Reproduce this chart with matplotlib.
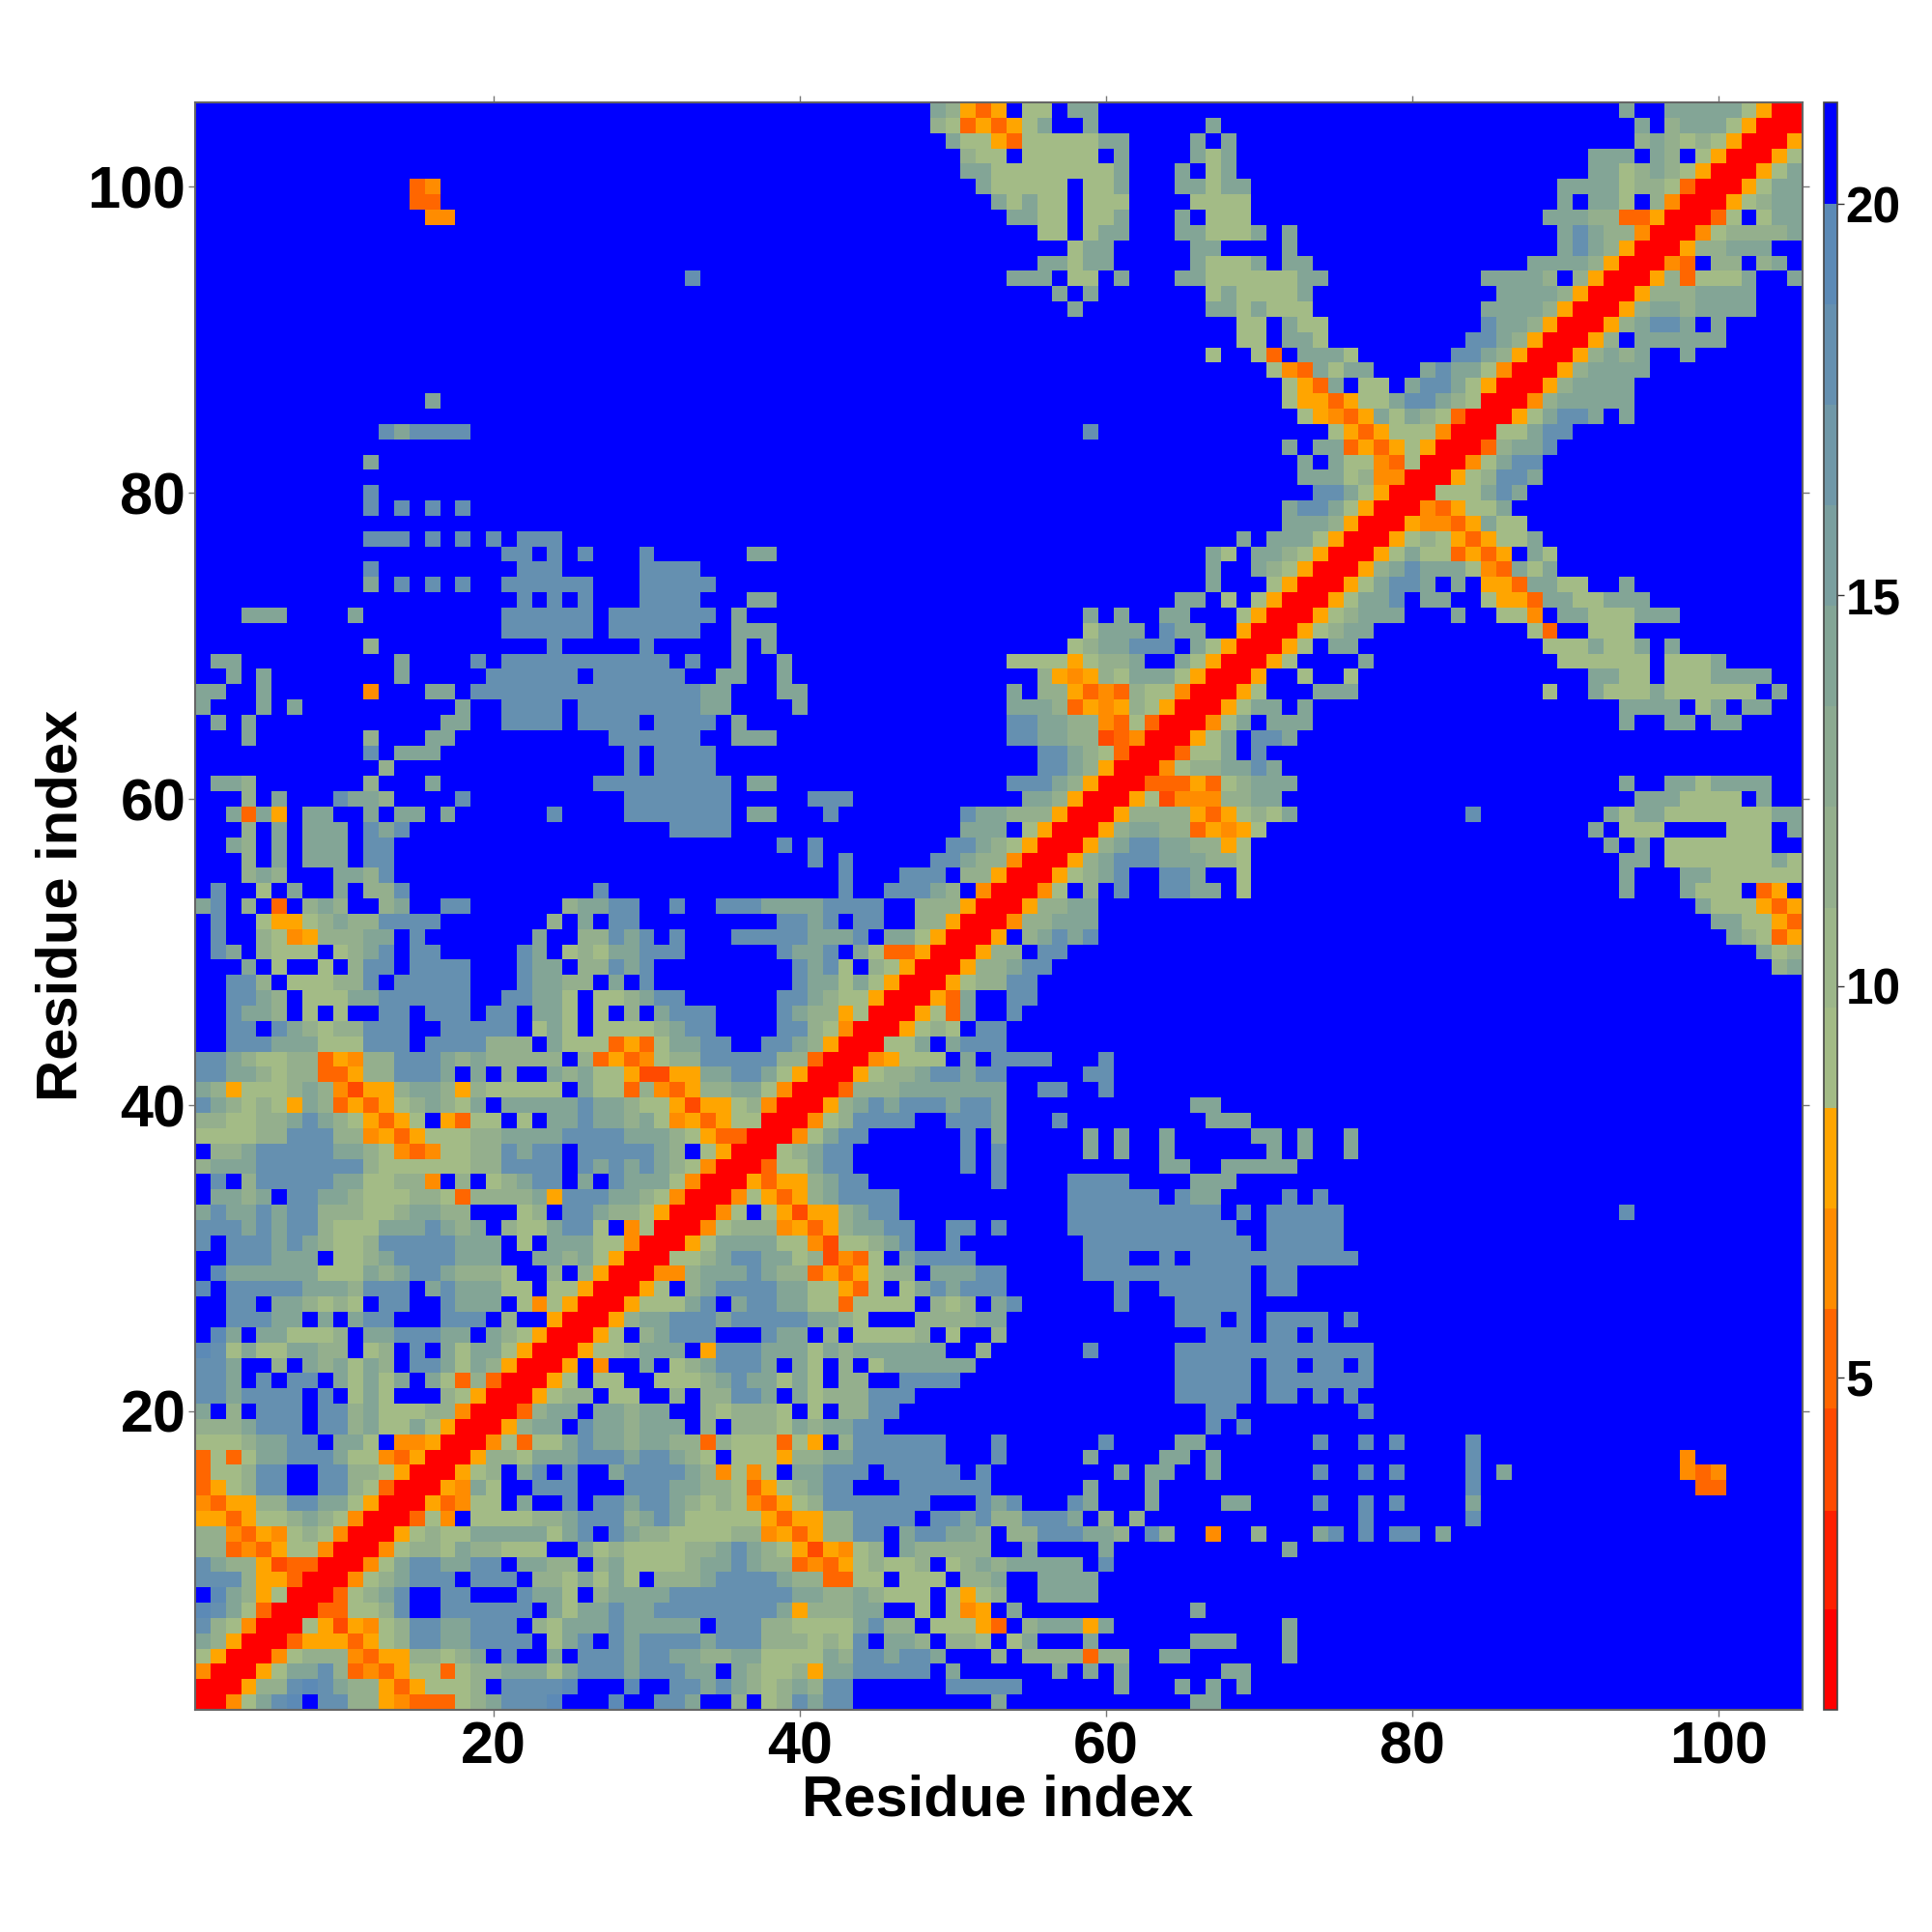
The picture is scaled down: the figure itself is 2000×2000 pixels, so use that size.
import numpy as np
import matplotlib
matplotlib.use("Agg")
import matplotlib.pyplot as plt
from matplotlib.colors import ListedColormap, BoundaryNorm

plt.rcParams["font.family"] = ["Liberation Sans", "DejaVu Sans"]
plt.rcParams["font.weight"] = "bold"

n_res = 105
edges = [0.75, 2.03, 3.3, 4.6, 5.88, 7.16, 8.45, 9.73, 11.0, 12.3, 13.58, 14.87, 16.15, 17.43, 18.72, 20.0, 21.3]
colors = ["#ff0000", "#ff2000", "#ff4a00", "#ff6600", "#ff8c00", "#ffa500",
          "#a3bb86", "#9cb68a", "#94af8d", "#8caa91", "#83a596", "#7a9f9f",
          "#7098a8", "#6590b0", "#5c8ab6", "#0000ff"]

# distance for each letter used in the rows below
levels = {"0": 1.4, "1": 2.7, "2": 3.9, "3": 5.2, "4": 6.5, "5": 7.8,
          "a": 9.1, "c": 11.6, "e": 14.0, "g": 18.0, "i": 19.4, ".": 20.6}

# rows 1-35, columns from the diagonal to 35
tri_a = [
    "004aegi.ggcc54333acegggi...i..gge.",
    "005ccgigecc535aaac.ggggi...i..ggeg",
    "005aeegc3435aa3acceeeaegggegggee.",
    "004accc4355ccace.g..e.gggeggeecc",
    "00355535acggeegggg.aeg.geggggeg",
    "00a5254acggeeggg.caeeegeeeee.g",
    "0033aacg..gggggg.eaeegeeggggg",
    "003aceg..gg...geea.ceeeegggg",
    "004aceggg.ggg.ccaeaea.ccceg",
    "004aeggeegg.eecc.ceaaaacee",
    "004accaeccaaa..eacaaaacce",
    "005acaaeeeeeaeg.geccaaaa",
    "003a4.aaaaccegggcegeaaa",
    "00534aa.e..g.ggeggecac",
    "0054ea..ggg...gggeecc",
    "005ac.eg.g..eggggec4",
    "005ccaeeegggeggeca.",
    "004a3aaegeeceecc3c",
    "005cee.geeceee.c.",
    "003cee.eecee..ca",
    "005acc.aa..c.cc",
    "005a.aa..aaace",
    "005.4..e.aceg",
    "005aaceee.5g",
    "005a.ceggg.",
    "005ceeggge",
    "005aaaeg.",
    "005a.ceg",
    "0044cee",
    "00aace",
    "005ae",
    "004a",
    "004",
    "00",
    "0",
]

# rows 1-35, columns 36-70
block_b = [
    "c.acgegg.........e............ee...",
    "ecacecgg......ggggg......e...e.e.e.",
    "ecaac5eeggggg.e......e.e.e......ee.",
    "eeaaaaecggegge...c.cccc3cc..ee.....",
    "ggcccacag.eec.cca.ae...e......eee..",
    "ggccaaaaegcc.aaa53.ceee5e..........",
    "ggge5cccee..a.a45.e...........e....",
    "ggggeeccecaaa.a5ac..eeee...........",
    "gggecc33aa.aaa.cce..eeee...........",
    "gecc3435acaac.aceceeeee.g..........",
    "geca5254ac.eccccc..e....e..........",
    "cc4535ccgg.eggeec.ccgggeec.gc..4..c",
    "aa5355ccgggg.ggegccggge.c.c........",
    "a435acggggggg...geg...ge...e....ee.",
    "a35acegg...gggggg......e...e.......",
    "a4a.eeggg.ggggg.g........e.ee..e...",
    "aaa5cceegggggg...g.....e....ee.e...",
    "aaa3a5.cgggggg...g......g....ee....",
    "cccaeceegg.....................g.g.",
    "ccca.a.ccgg....................gg..",
    "gge.eacccggg.................ggggg.",
    "geeaea.cc..gggg..............ggggg.",
    "gge.ea.c.aeeeeee.............ggggg.",
    "ggeeeaeceeeeee..c......g.....gggggg",
    "..gee.c.aaaac.a..c.............ggg.",
    "gggggeeca...ccccee...........ggg.g.",
    "eggeeaa3aaaa.cac.eg......g...ggggg.",
    "gggeeaa53a.aegeggg.......g..gggggg.",
    "egecc3535acc.eeegg.....ggggggggggg.",
    "ggeeac243a.egggg.......ggg..g.ggggg",
    "eeeaa42aaceg..g........ggggggggggg.",
    "ccc4535ceegg..gg.g....ggggggggggg..",
    "a.a5255cegg...........gggggggggg.g.",
    "4a535cegggg...........gggggg.gee...",
    "05355cegg........g....gggg....eee..",
]

# rows 1-35, columns 71-105
block_c = [
    "", "", "",
    ".e", ".e", ".e",
    "", "", "", "",
    ".e",
    "...eg.g.gg.e",
    "......g......g",
    "...g..g.g....e",
    ".............g..............33",
    "...g..g.g....g.e...........434",
    ".............g.............4",
    "...g..g.g....g",
    "",
    "......g",
    "gg.g.g",
    "ggggggg",
    "gg.gg.g",
    "ggggggg",
    "gg.g",
    "gggg.g",
    "",
    "gg",
    "gg",
    "gggggg",
    "ggggg",
    "ggggg",
    "ggggg..................g",
    ".g.g",
    "",
]

# rows 36-70, columns from the diagonal to 70
tri_d = [
    "003aaegg.......g.g..........ee..eee",
    "00acegg.......g.g.....e.e..e",
    "004aegg......g.e.....e.e..e.....e",
    "004acgggg..ggge...g.........eee.",
    "005cegegggegge............ee",
    "003ccceeeeeee..gg..g",
    "005acceggegg.....gg",
    "0045aaa.e.gggg...g",
    "00aae.eggg",
    "005aca.gg",
    "005a3e..g",
    "0053e..gg",
    "005accgg",
    "005ccegg",
    "005cc.gg",
    "005.cegeg",
    "004cceee",
    "005ccee",
    "004a.c.g..ggee.a.",
    "005aceg..gge..a.",
    "005cegggeeecca.",
    "005ceggeecc5a.",
    "005ceecc3545a",
    "005cccc535ac",
    "005a2444cce",
    "0033353ace",
    "004acceeg",
    "003aae.g",
    "005ae.g",
    "004ae.",
    "005ae",
    "005a",
    "005",
    "00",
    "0",
]

# rows 36-70, columns 71-105
block_e = [
    "ee",
    "e.e..e",
    "e.e..e",
    "", "", "", "", "", "", "", "", "", "",
    "." * 33 + "ce",
    "." * 32 + "eac",
    "." * 30 + "eca35",
    "." * 29 + "eeaa53",
    "." * 28 + "eaaa535",
    "." * 23 + "e...eaaa.35.",
    "." * 23 + "e...eeaaaaaa",
    "." * 23 + "ee.aaaaaaaea",
    "." * 22 + "e.e.aaaaaaa..",
    "." * 21 + "e.aaa....aaa.e",
    "ae" + "." * 11 + "g" + "." * 8 + "eaeeaaaaaaaee",
    "e" + "." * 23 + "eeeaaaa.e..",
    "ee" + "." * 21 + "e..eeaeeee..",
    "e",
    "",
    "ge",
    "eee" + "." * 20 + "e..ee.ee....",
    "e.e" + "." * 20 + "eeee.ae.ee..",
    "...eee" + "." * 12 + "a..eaaaeaaaaaa.e.",
    "..a..a" + "." * 15 + "eeaa.aaaeeee..",
    "5a....e" + "." * 12 + "aaaaaa.aaae.....",
    "05a.ee" + "." * 12 + "aaaeaae.e" + "." * 8,
]

# rows 71-105, columns from the diagonal to 105
tri_f = [
    "005acee..........a3..aaa",
    "005aceee...e..aa4.eeaaaeee",
    "005aeeg.ee..a553eeaaeee",
    "005aegge.e.553eeaa..e",
    "005cegeeea43eae",
    "005aeaa3535.ea",
    "005aca535aae",
    "0054435eaa",
    "00435aae",
    "00aaaege",
    "005acgge",
    "004aegg",
    "003ceeg",
    "00aaegg",
    "005aegge.e",
    "004ceeeee",
    "005ceeee",
    "005ceeee",
    "005cece..e",
    "005c.eeeeee",
    "005cegge.e",
    "005ceeceeee",
    "005ccceeee",
    "005c3aaae..e",
    "0043.cc.ce.",
    "005cceee..",
    "004acccce",
    "003a.aee",
    "005acee",
    "005aee",
    "005ae",
    "005a",
    "005",
    "00",
    "0",
]

x_ticks = [20, 40, 60, 80, 100]
cbar_ticks = [5, 10, 15, 20]

dist = np.full((n_res, n_res), levels["."])


def put(rows, first_row, first_col, from_diag):
    for k, row in enumerate(rows):
        r = first_row + k
        start = r if from_diag else first_col
        for j, ch in enumerate(row):
            c = start + j
            if c > n_res:
                break
            dist[r - 1, c - 1] = levels[ch]
            dist[c - 1, r - 1] = levels[ch]


put(tri_a, 1, 1, True)
put(block_b, 1, 36, False)
put(block_c, 1, 71, False)
put(tri_d, 36, 36, True)
put(block_e, 36, 71, False)
put(tri_f, 71, 71, True)

cmap = ListedColormap(colors)
norm = BoundaryNorm(edges, cmap.N)

fig = plt.figure(figsize=(20, 20), dpi=100)
ax = fig.add_axes([0.101, 0.115, 0.832, 0.832])
im = ax.imshow(dist, origin="lower", cmap=cmap, norm=norm, interpolation="nearest",
               extent=[0.5, n_res + 0.5, 0.5, n_res + 0.5], aspect="auto")

ax.set_xticks(x_ticks)
ax.set_yticks(x_ticks)
ax.tick_params(axis="both", which="major", direction="out", length=5, width=1.0, color="#777777",
               top=True, right=True, labelsize=44)
ax.tick_params(axis="x", pad=3)
ax.tick_params(axis="y", pad=2)
for s in ax.spines.values():
    s.set_color("#666666")
    s.set_linewidth(1.5)

fig.text(0.5165, 0.068, "Residue index", fontsize=43, fontweight="bold", ha="center", va="center")
fig.text(0.032, 0.5315, "Residue index", fontsize=43, fontweight="bold", ha="center", va="center", rotation=90)

cax = fig.add_axes([0.944, 0.115, 0.007, 0.832])
cb = fig.colorbar(im, cax=cax, ticks=cbar_ticks, spacing="proportional")
cb.ax.tick_params(labelsize=37, length=5, width=1.0, pad=1, color="#333333")
cb.ax.minorticks_off()
cb.outline.set_edgecolor("#444444")
cb.outline.set_linewidth(1.2)

fig.savefig("out.png", dpi=100)
